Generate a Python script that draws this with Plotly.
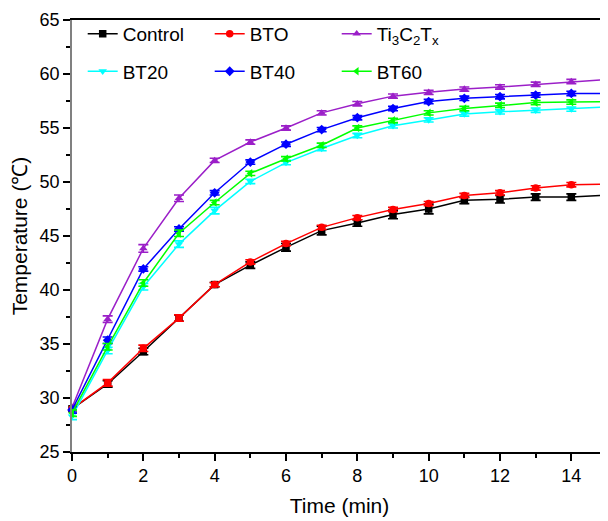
import plotly.graph_objects as go

time = list(range(16))

control = [29.0, 31.3, 34.3, 37.4, 40.5, 42.3, 43.95, 45.5, 46.2, 47.0, 47.5, 48.3, 48.4, 48.6, 48.6, 48.8]
control_err = [0.3, 0.3, 0.3, 0.3, 0.2, 0.3, 0.35, 0.4, 0.3, 0.4, 0.45, 0.3, 0.35, 0.3, 0.3, 0.3]

bto = [29.0, 31.4, 34.6, 37.4, 40.5, 42.6, 44.3, 45.8, 46.7, 47.45, 48.0, 48.75, 49.0, 49.45, 49.75, 49.8]
bto_err = [0.3, 0.3, 0.3, 0.3, 0.2, 0.2, 0.2, 0.2, 0.2, 0.2, 0.2, 0.2, 0.2, 0.2, 0.2, 0.2]

ti3c2tx = [29.1, 37.3, 43.85, 48.5, 52.0, 53.7, 55.0, 56.4, 57.25, 57.95, 58.3, 58.6, 58.8, 59.05, 59.3, 59.5]
ti3c2tx_err = [0.3, 0.3, 0.35, 0.3, 0.2, 0.2, 0.2, 0.2, 0.2, 0.2, 0.2, 0.2, 0.2, 0.2, 0.2, 0.2]

bt20 = [28.3, 34.4, 40.3, 44.25, 47.35, 50.05, 51.8, 53.1, 54.3, 55.2, 55.75, 56.3, 56.5, 56.65, 56.75, 56.95]
bt20_err = [0.3, 0.3, 0.3, 0.3, 0.3, 0.2, 0.2, 0.2, 0.2, 0.2, 0.2, 0.2, 0.2, 0.2, 0.2, 0.2]

bt40 = [28.9, 35.35, 41.95, 45.65, 49.0, 51.85, 53.5, 54.85, 55.95, 56.8, 57.45, 57.75, 57.9, 58.05, 58.2, 58.2]
bt40_err = [0.3, 0.3, 0.2, 0.2, 0.2, 0.2, 0.2, 0.2, 0.2, 0.2, 0.2, 0.2, 0.2, 0.2, 0.2, 0.2]

bt60 = [28.6, 34.75, 40.65, 45.25, 48.1, 50.8, 52.15, 53.4, 55.0, 55.7, 56.4, 56.8, 57.1, 57.35, 57.4, 57.45]
bt60_err = [0.3, 0.3, 0.3, 0.3, 0.2, 0.2, 0.2, 0.2, 0.2, 0.2, 0.2, 0.2, 0.2, 0.2, 0.2, 0.2]

series = [
    ("Control", control, control_err, "#000000", "square", "legend"),
    ("BTO", bto, bto_err, "#FF0000", "circle", "legend"),
    ("Ti<sub>3</sub>C<sub>2</sub>T<sub>x</sub>", ti3c2tx, ti3c2tx_err, "#9B1FC8", "triangle-up", "legend"),
    ("BT20", bt20, bt20_err, "#00FFFF", "triangle-down", "legend2"),
    ("BT40", bt40, bt40_err, "#0000FF", "diamond", "legend2"),
    ("BT60", bt60, bt60_err, "#00FF00", "triangle-left", "legend2"),
]

FONT = "Liberation Sans, Arial, sans-serif"

fig = go.Figure()
for name, ys, err, color, sym, lg in series:
    fig.add_trace(go.Scatter(
        x=time, y=ys, name=name, mode="lines+markers",
        line=dict(color=color, width=1.5),
        marker=dict(symbol=sym, size=7.5, color=color),
        error_y=dict(type="data", array=err, visible=True, color=color, thickness=1.6, width=5),
        cliponaxis=False,
        legend=lg,
    ))

legend_common = dict(
    orientation="h", xanchor="left", yanchor="top",
    bgcolor="rgba(0,0,0,0)", borderwidth=0,
    font=dict(family=FONT, size=19, color="#000000"),
    entrywidth=82, entrywidthmode="pixels",
    tracegroupgap=0, itemwidth=30,
)

# page body has an 8px margin, so the figure is sized/offset to compensate
fig.update_layout(
    width=600, height=513,
    margin=dict(l=64, r=1, t=12, b=69, autoexpand=False),
    paper_bgcolor="white", plot_bgcolor="white",
    font=dict(family=FONT, size=18, color="#000000"),
    showlegend=True,
    legend=dict(x=0.02, y=1.012, **legend_common),
    legend2=dict(x=0.02, y=0.925, **legend_common),
    xaxis=dict(
        range=[0, 15], tickvals=[0, 2, 4, 6, 8, 10, 12, 14],
        ticks="outside", ticklen=7, tickwidth=1.5, tickcolor="#000000",
        showline=True, linecolor="#000000", linewidth=1.5, mirror=True,
        showgrid=False, zeroline=False, automargin=False,
        tickfont=dict(family=FONT, size=18),
        minor=dict(tickvals=[1, 3, 5, 7, 9, 11, 13, 15], ticks="outside", ticklen=4, tickwidth=1.5, tickcolor="#000000"),
        title=dict(text="Time (min)", font=dict(family=FONT, size=21), standoff=13),
    ),
    yaxis=dict(
        range=[25, 65], tickvals=[25, 30, 35, 40, 45, 50, 55, 60, 65],
        ticks="outside", ticklen=7, tickwidth=1.5, tickcolor="#000000",
        showline=True, linecolor="#808080", linewidth=1.5,
        showgrid=False, zeroline=False, automargin=False,
        tickfont=dict(family=FONT, size=18),
        minor=dict(tickvals=[27.5, 32.5, 37.5, 42.5, 47.5, 52.5, 57.5, 62.5], ticks="outside", ticklen=4, tickwidth=1.5, tickcolor="#000000"),
        title=dict(text="Temperature (℃)", font=dict(family=FONT, size=21), standoff=8),
    ),
)

fig.write_html("out.html")
